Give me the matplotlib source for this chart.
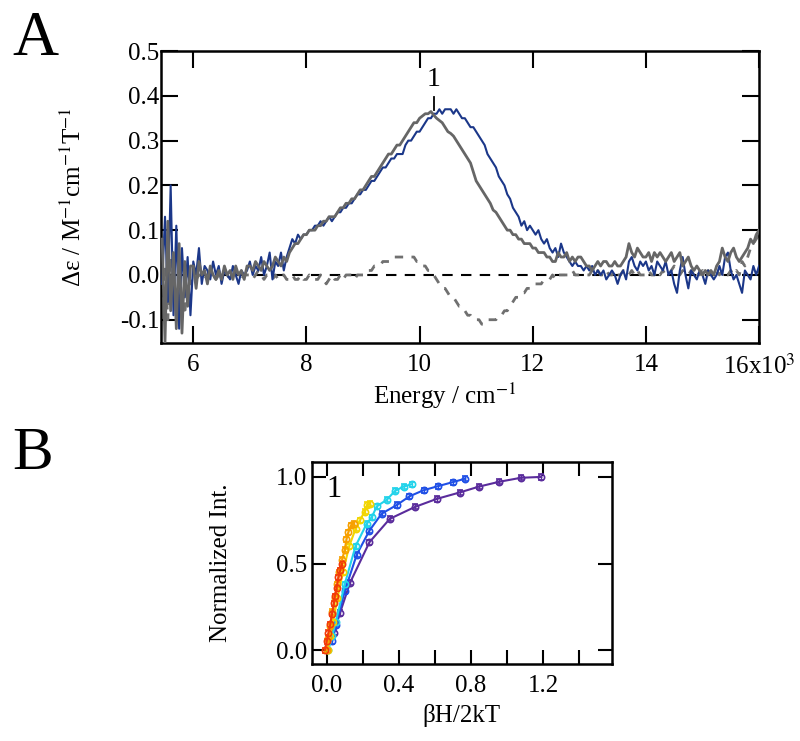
import numpy as np
import matplotlib
matplotlib.use('Agg')
import matplotlib.pyplot as plt

plt.rcParams['font.family'] = ['Liberation Serif', 'DejaVu Serif']
plt.rcParams['mathtext.fontset'] = 'stix'

# ---- panel A: MCD spectra on a 0.05 (x10^3 cm-1) grid from 5.45 to 16.00
energy = np.round(5.45 + 0.05 * np.arange(212), 2)

blue = [
	-0.02, 0.13, -0.06, 0.20, -0.09, 0.11, -0.12, 0.06, -0.05, 0.04, -0.09,
	0.03, 0.00, 0.06, -0.02, 0.02, 0.01, -0.01, 0.03, 0.00, 0.02, -0.02, 0.01, 0.00, -0.01, 0.02, 0.00, -0.02, 0.01, 0.00, 0.01,
	0.03, 0.00, 0.02, 0.01, 0.04, 0.00, 0.02, 0.05, -0.01, 0.03, 0.02, 0.05, 0.01, 0.04, 0.06, 0.08, 0.07, 0.09, 0.08, 0.09,
	0.09, 0.10, 0.10, 0.11, 0.11, 0.12, 0.11, 0.12, 0.13, 0.12, 0.13, 0.14, 0.14, 0.15, 0.15, 0.16, 0.16, 0.17, 0.18, 0.18,
	0.19, 0.19, 0.20, 0.21, 0.21, 0.22, 0.23, 0.24, 0.24, 0.25, 0.26, 0.26, 0.27, 0.27, 0.27, 0.29, 0.30, 0.30, 0.31, 0.32,
	0.32, 0.33, 0.34, 0.35, 0.35, 0.36, 0.36, 0.37, 0.36, 0.37, 0.37, 0.37, 0.36, 0.37, 0.36, 0.35, 0.35, 0.34, 0.33, 0.33,
	0.32, 0.31, 0.30, 0.29, 0.27, 0.26, 0.25, 0.24, 0.22, 0.21, 0.20, 0.18, 0.17, 0.15, 0.14, 0.13, 0.11, 0.12, 0.10, 0.11,
	0.10, 0.09, 0.10, 0.08, 0.07, 0.08, 0.06, 0.05, 0.06, 0.04, 0.07, 0.05, 0.04, 0.03, 0.02, 0.03, 0.02, 0.02, 0.01, 0.02,
	0.01, 0.02, 0.00, 0.01, 0.00, 0.01, -0.01, 0.00, 0.01, 0.00, -0.02, 0.00, 0.01, -0.01, 0.03, 0.04, 0.02, 0.01, 0.03, 0.02,
	0.03, 0.01, 0.02, 0.00, 0.03, 0.02, 0.01, 0.03, 0.00, 0.01, -0.02, -0.04, 0.01, 0.04, 0.00, -0.03, 0.01, 0.00, -0.01, 0.01,
	0.00, -0.02, 0.01, 0.00, -0.01, 0.00, 0.02, 0.00, 0.04, 0.05, 0.01, -0.01, 0.00, -0.02, -0.04, 0.01, 0.00, -0.01, 0.02, 0.00,
	0.02,
]

gray = [
	0.08, -0.15, 0.12, -0.08, 0.05, -0.12, 0.07, -0.13, 0.03, -0.07, 0.02,
	0.02, -0.03, 0.03, 0.00, 0.01, -0.02, 0.02, 0.00, -0.01, 0.01, -0.01, 0.02, 0.00, 0.01, -0.01, 0.02, 0.00, 0.01, -0.01, 0.02,
	0.02, 0.01, 0.03, 0.02, 0.01, 0.03, 0.02, 0.01, 0.02, 0.04, 0.03, 0.02, 0.04, 0.03, 0.05, 0.06, 0.07, 0.07, 0.08, 0.09,
	0.09, 0.10, 0.10, 0.10, 0.11, 0.11, 0.12, 0.12, 0.13, 0.13, 0.13, 0.14, 0.15, 0.15, 0.16, 0.16, 0.17, 0.17, 0.18, 0.19,
	0.19, 0.20, 0.21, 0.22, 0.22, 0.23, 0.24, 0.25, 0.26, 0.27, 0.27, 0.28, 0.29, 0.29, 0.30, 0.31, 0.32, 0.33, 0.34, 0.34,
	0.35, 0.355, 0.36, 0.36, 0.365, 0.357, 0.35, 0.345, 0.34, 0.33, 0.32, 0.316, 0.31, 0.30, 0.29, 0.28, 0.27, 0.26, 0.25, 0.23,
	0.21, 0.20, 0.19, 0.18, 0.17, 0.16, 0.145, 0.14, 0.13, 0.12, 0.11, 0.10, 0.10, 0.09, 0.09, 0.08, 0.08, 0.07, 0.07, 0.07,
	0.06, 0.06, 0.05, 0.05, 0.05, 0.04, 0.04, 0.03, 0.03, 0.05, 0.04, 0.04, 0.05, 0.03, 0.04, 0.03, 0.04, 0.04, 0.03, 0.02,
	0.02, 0.01, 0.02, 0.03, 0.02, 0.03, 0.03, 0.02, 0.02, 0.03, 0.02, 0.02, 0.03, 0.04, 0.07, 0.05, 0.04, 0.06, 0.05, 0.04,
	0.04, 0.05, 0.03, 0.05, 0.04, 0.05, 0.04, 0.03, 0.04, 0.05, 0.03, 0.04, 0.05, 0.02, 0.03, 0.04, 0.02, 0.01, 0.02, 0.01,
	0.00, 0.01, 0.00, 0.01, 0.00, 0.02, 0.03, 0.06, 0.04, 0.03, 0.05, 0.06, 0.04, 0.03, 0.04, 0.05, 0.06, 0.08, 0.07, 0.09,
	0.10,
]

diff = [
	-0.05, 0.02, -0.10, 0.04, -0.03, -0.08, 0.00, -0.05, -0.09, 0.01, -0.02,
	0.00, -0.01, 0.00, 0.00, -0.01, 0.00, 0.01, 0.00, -0.01, 0.00, 0.00, 0.01, 0.00, -0.01, 0.00, 0.01, 0.00, -0.01, 0.00, 0.00,
	0.00, -0.01, 0.00, 0.01, 0.00, -0.01, 0.00, 0.00, -0.01, 0.00, -0.01, 0.00, 0.00, -0.01, -0.01, 0.00, -0.01, -0.01, 0.00, -0.01,
	-0.01, 0.00, -0.01, -0.01, -0.01, 0.00, -0.01, -0.02, -0.01, 0.00, -0.01, -0.01, 0.00, -0.01, 0.00, 0.00, 0.00, -0.01, 0.00, 0.00,
	0.00, 0.01, 0.01, 0.01, 0.02, 0.02, 0.02, 0.03, 0.03, 0.03, 0.03, 0.04, 0.04, 0.04, 0.04, 0.04, 0.04, 0.04, 0.04, 0.03,
	0.03, 0.02, 0.02, 0.01, 0.01, 0.00, -0.01, -0.02, -0.03, -0.03, -0.04, -0.05, -0.05, -0.06, -0.07, -0.07, -0.08, -0.09, -0.09, -0.10,
	-0.10, -0.10, -0.11, -0.11, -0.10, -0.10, -0.10, -0.10, -0.09, -0.09, -0.08, -0.08, -0.07, -0.06, -0.05, -0.05, -0.04, -0.04, -0.03, -0.03,
	-0.02, -0.02, -0.02, -0.02, -0.01, -0.01, -0.01, 0.00, -0.01, 0.00, 0.00, 0.00, 0.00, 0.00, 0.01, 0.00, 0.00, 0.00, 0.00, 0.00,
	0.00, 0.01, 0.00, 0.01, 0.00, 0.00, 0.01, 0.00, 0.00, 0.01, 0.00, 0.00, 0.01, 0.00, 0.00, 0.01, 0.00, 0.01, 0.00, 0.00,
	0.00, 0.01, 0.00, 0.00, 0.01, 0.00, 0.01, 0.00, 0.00, 0.01, 0.02, 0.01, 0.00, 0.01, 0.00, 0.00, 0.01, 0.00, 0.01, 0.00,
	0.01, 0.00, 0.01, 0.00, 0.00, 0.01, 0.00, 0.01, 0.00, 0.00, 0.01, 0.00, 0.01, 0.00, 0.03, 0.02, 0.04, 0.06, 0.07, 0.08,
	0.09,
]

band_pos = 10.25
band_label = '1'
xticks_A = [6, 8, 10, 12, 14, 16]
xticklabels_A = ['6', '8', '10', '12', '14', '16x10$^{3}$']
yticks_A = [-0.1, 0.0, 0.1, 0.2, 0.3, 0.4, 0.5]
yticklabels_A = ['-0.1', '0.0', '0.1', '0.2', '0.3', '0.4', '0.5']

# ---- panel B: VTVH saturation curves
purple_x = [0.04, 0.074, 0.13, 0.237, 0.35, 0.49, 0.61, 0.737, 0.844, 0.957, 1.077, 1.19]
purple_y = [0.10, 0.215, 0.39, 0.623, 0.758, 0.827, 0.873, 0.91, 0.944, 0.972, 0.995, 1.0]
blue_x = [0.03, 0.052, 0.10, 0.167, 0.237, 0.305, 0.389, 0.459, 0.537, 0.615, 0.70, 0.768]
blue_y = [0.05, 0.148, 0.34, 0.552, 0.69, 0.788, 0.838, 0.888, 0.923, 0.946, 0.97, 0.99]
cyan_x = [0.01, 0.03, 0.05, 0.10, 0.16, 0.222, 0.25, 0.278, 0.333, 0.38, 0.426, 0.472]
cyan_y = [0.0, 0.08, 0.16, 0.38, 0.60, 0.73, 0.768, 0.83, 0.868, 0.92, 0.944, 0.958]
yellow_x = [0.005, 0.02, 0.035, 0.06, 0.09, 0.125, 0.16, 0.185, 0.21, 0.225, 0.24]
yellow_y = [0.0, 0.08, 0.16, 0.30, 0.45, 0.60, 0.70, 0.75, 0.80, 0.84, 0.845]
orange_x = [0.0, 0.01, 0.02, 0.03, 0.045, 0.06, 0.07, 0.085, 0.10, 0.11, 0.12, 0.135, 0.15]
orange_y = [0.0, 0.07, 0.14, 0.22, 0.30, 0.38, 0.45, 0.52, 0.58, 0.64, 0.68, 0.72, 0.73]
red_x = [-0.01, 0.0, 0.01, 0.02, 0.03, 0.04, 0.045, 0.055, 0.065, 0.075, 0.085]
red_y = [0.0, 0.05, 0.10, 0.15, 0.21, 0.27, 0.31, 0.36, 0.42, 0.46, 0.50]

series_B = [
	(purple_x, purple_y, '#5a2c9c'),
	(blue_x, blue_y, '#1f4fe6'),
	(cyan_x, cyan_y, '#22d3ea'),
	(yellow_x, yellow_y, '#f2d500'),
	(orange_x, orange_y, '#f7a000'),
	(red_x, red_y, '#f23a0a'),
]

fig = plt.figure(figsize=(8, 7.41), dpi=100)

# panel A
ax = fig.add_axes([0.2013, 0.5371, 0.7475, 0.394])
ax.axhline(0, color='black', lw=1.5, ls=(0, (5, 4)), zorder=1)
ax.plot(energy, diff, color='#707070', lw=2, ls=(0, (3, 3)), zorder=2)
ax.plot(energy, blue, color='#1b3789', lw=1.5, zorder=3)
ax.plot(energy, gray, color='#666666', lw=2, zorder=4)
ax.plot([band_pos, band_pos], [0.368, 0.398], color='black', lw=1.3)
ax.text(band_pos, 0.408, band_label, ha='center', va='bottom', fontsize=20)

ax.set_xlim(5.43, 16.0)
ax.set_ylim(-0.152, 0.5)
ax.set_xticks(xticks_A)
ax.set_xticklabels(xticklabels_A)
ax.set_yticks(yticks_A)
ax.set_yticklabels(yticklabels_A)
ax.tick_params(direction='in', length=12, width=1.5, labelsize=18, top=True, right=True)
ax.tick_params(axis='x', pad=8)
ax.tick_params(axis='y', pad=1)
for s in ax.spines.values():
	s.set_linewidth(1.8)
ax.set_xlabel('Energy / cm$^{-1}$', fontsize=18)
ax.xaxis.set_label_coords(0.475, -0.13)
ax.set_ylabel('Δε / M$^{-1}$cm$^{-1}$T$^{-1}$', fontsize=18)
ax.yaxis.set_label_coords(-0.125, 0.5)

# panel B
bx = fig.add_axes([0.3896, 0.1039, 0.375, 0.2726])
for xs, ys, c in series_B:
	bx.errorbar(xs, ys, yerr=0.015, color=c, lw=1.5, marker='o', ms=4.5,
		mfc='none', mew=1.2, capsize=2.5, elinewidth=1)
bx.text(0.0, 0.93, '1', fontsize=22, ha='left', va='center')

bx.set_xlim(-0.083, 1.58)
bx.set_ylim(-0.08, 1.086)
bx.set_xticks([0.0, 0.4, 0.8, 1.2])
bx.set_xticks([0.2, 0.6, 1.0, 1.4], minor=True)
bx.set_yticks([0.0, 0.5, 1.0])
bx.tick_params(which='both', direction='in', width=1.5, length=10, labelsize=18, top=True, right=True)
bx.tick_params(axis='x', which='both', pad=8)
bx.tick_params(axis='y', pad=3)
for s in bx.spines.values():
	s.set_linewidth(1.8)
bx.set_xlabel('βH/2kT', fontsize=18)
bx.xaxis.set_label_coords(0.5, -0.2)
bx.set_ylabel('Normalized Int.', fontsize=18)
bx.yaxis.set_label_coords(-0.265, 0.5)

fig.text(0.015, 0.985, 'A', fontsize=46, va='top', ha='left')
fig.text(0.015, 0.425, 'B', fontsize=44, va='top', ha='left')

fig.savefig('out.png', dpi=100)
